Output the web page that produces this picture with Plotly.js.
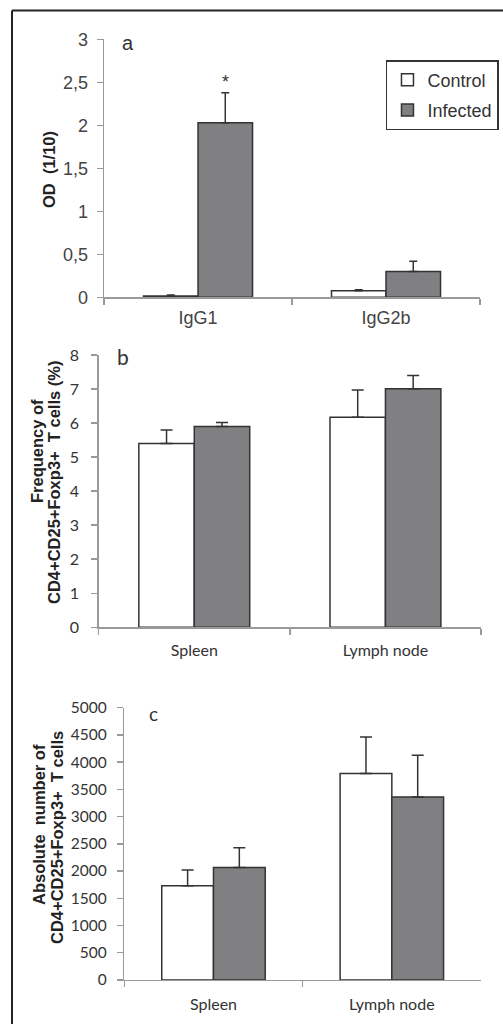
<!DOCTYPE html>
<html>
<head>
<meta charset="utf-8">
<script src="https://cdn.plot.ly/plotly-3.0.1.min.js"></script>
<style>
  html, body { margin: 0; padding: 0; background: #fff; }
  #chart { width: 503px; height: 1024px; }
</style>
</head>
<body>
<div id="chart"></div>
<script>
// ---- Data ----
const seriesNames = ['Control', 'Infected'];

// Panel a: OD (1/10)
const catA = ['IgG1', 'IgG2b'];
const aControl = [0.015, 0.077];
const aControlErr = [0.012, 0.011];
const aInfected = [2.03, 0.30];
const aInfectedErr = [0.35, 0.12];
const aTickVals = [0, 0.5, 1, 1.5, 2, 2.5, 3];
const aTickText = ['0', '0,5', '1', '1,5', '2', '2,5', '3'];
const aStarY = [2.5];

// Panel b: frequency (%)
const catB = ['Spleen', 'Lymph node'];
const bControl = [5.4, 6.17];
const bControlErr = [0.4, 0.8];
const bInfected = [5.9, 7.01];
const bInfectedErr = [0.12, 0.39];
const bTickVals = [0, 1, 2, 3, 4, 5, 6, 7, 8];
const bTickText = ['0', '1', '2', '3', '4', '5', '6', '7', '8'];

// Panel c: absolute number
const catC = ['Spleen', 'Lymph node'];
const cControl = [1730, 3790];
const cControlErr = [290, 670];
const cInfected = [2065, 3360];
const cInfectedErr = [365, 765];
const cTickVals = [0, 500, 1000, 1500, 2000, 2500, 3000, 3500, 4000, 4500, 5000];
const cTickText = ['0', '500', '1000', '1500', '2000', '2500', '3000', '3500', '4000', '4500', '5000'];

// ---- Styles ----
const CONTROL_FILL = '#ffffff';
const INFECTED_FILL = '#808083';
const OUTLINE = '#333333';
const AXIS_GREY = '#9a9a9a';
const ARIAL = 'Liberation Sans, Arial, sans-serif';
const CALIBRI = 'Lato, Carlito, sans-serif';

function barTrace(name, x, y, err, fill, xa, ya, show, capw) {
  return {
    type: 'bar', name: name, x: x, y: y,
    xaxis: xa, yaxis: ya,
    showlegend: show, legendgroup: name,
    marker: { color: fill, line: { color: OUTLINE, width: 1.5 } },
    error_y: { type: 'data', symmetric: false, array: err,
               arrayminus: err.map(() => 0),
               color: OUTLINE, thickness: 1.5, width: capw },
    hoverinfo: 'skip'
  };
}

const data = [
  barTrace(seriesNames[0], catA, aControl, aControlErr, CONTROL_FILL, 'x', 'y', true, 4),
  barTrace(seriesNames[1], catA, aInfected, aInfectedErr, INFECTED_FILL, 'x', 'y', true, 4),
  barTrace(seriesNames[0], catB, bControl, bControlErr, CONTROL_FILL, 'x2', 'y2', false, 6),
  barTrace(seriesNames[1], catB, bInfected, bInfectedErr, INFECTED_FILL, 'x2', 'y2', false, 6),
  barTrace(seriesNames[0], catC, cControl, cControlErr, CONTROL_FILL, 'x3', 'y3', false, 6),
  barTrace(seriesNames[1], catC, cInfected, cInfectedErr, INFECTED_FILL, 'x3', 'y3', false, 6)
];

function xAxis(domain, anchor, font, standoff) {
  return {
    domain: domain, anchor: anchor, type: 'category',
    showline: true, linecolor: AXIS_GREY, linewidth: 1.5,
    ticks: 'outside', tickson: 'boundaries', ticklen: 6, tickcolor: AXIS_GREY, tickwidth: 1.5,
    showgrid: false, zeroline: false, fixedrange: true,
    tickfont: font, ticklabelstandoff: standoff
  };
}
function yAxis(domain, anchor, range, vals, text, font, standoff) {
  return {
    domain: domain, anchor: anchor, range: range,
    tickmode: 'array', tickvals: vals, ticktext: text,
    showline: true, linecolor: AXIS_GREY, linewidth: 1.5,
    ticks: 'outside', ticklen: 6, tickcolor: AXIS_GREY, tickwidth: 1.5,
    showgrid: false, zeroline: false, fixedrange: true,
    tickfont: font, ticklabelstandoff: standoff
  };
}

const titleFont = { family: ARIAL, size: 16.5, color: '#222', weight: 'bold' };

function note(x, y, text, font, angle) {
  return { xref: 'paper', yref: 'paper', x: x / 503, y: 1 - y / 1024, text: text,
           showarrow: false, xanchor: 'center', yanchor: 'middle',
           textangle: angle || 0, font: font };
}

const layout = {
  width: 503, height: 1024,
  margin: { l: 0, r: 0, t: 0, b: 0 },
  paper_bgcolor: '#fff', plot_bgcolor: '#fff',
  barmode: 'group', bargap: 0.42, bargroupgap: 0,
  xaxis: xAxis([0.2068, 0.9543], 'y', { family: ARIAL, size: 18, color: '#444' }, 4),
  yaxis: yAxis([0.7097, 0.9616], 'x', [0, 3], aTickVals, aTickText, { family: ARIAL, size: 18, color: '#444' }, 5),
  xaxis2: xAxis([0.1962, 0.9563], 'y2', { family: CALIBRI, size: 16, color: '#333' }, 8),
  yaxis2: yAxis([0.3874, 0.6533], 'x2', [0, 8], bTickVals, bTickText, { family: CALIBRI, size: 16, color: '#333' }, 9),
  xaxis3: xAxis([0.2471, 0.9563], 'y3', { family: CALIBRI, size: 16, color: '#333' }, 9),
  yaxis3: yAxis([0.0430, 0.3089], 'x3', [0, 5000], cTickVals, cTickText, { family: CALIBRI, size: 15.5, color: '#333' }, 7),
  showlegend: true,
  legend: {
    x: 0.992, xanchor: 'right', y: 0.9414, yanchor: 'top',
    bgcolor: '#fff', bordercolor: '#333', borderwidth: 1.5,
    font: { family: ARIAL, size: 18, color: '#333' },
    traceorder: 'grouped', tracegroupgap: 4,
    itemwidth: 30
  },
  annotations: [
    note(128, 43, 'a', { family: ARIAL, size: 20, color: '#333' }),
    note(123, 356, 'b', { family: CALIBRI, size: 21, color: '#333' }),
    note(153, 713, 'c', { family: CALIBRI, size: 19, color: '#333' }),
    { xref: 'x', yref: 'y', x: catA[0], y: aStarY[0], xshift: 27, text: '*', showarrow: false,
      xanchor: 'center', yanchor: 'middle',
      font: { family: ARIAL, size: 18, color: '#333' } },
    note(49, 170, 'OD  (1/10)', titleFont, -90),
    note(37, 451, 'Frequency of', titleFont, -90),
    note(54, 483, 'CD4+CD25+Foxp3+  T cells (%)', titleFont, -90),
    note(39, 825, 'Absolute  number of', titleFont, -90),
    note(57, 838, 'CD4+CD25+Foxp3+  T cells', titleFont, -90)
  ],
  shapes: [
    { type: 'line', xref: 'paper', yref: 'paper', x0: 12/503, x1: 1, y0: 1 - 10.5/1024, y1: 1 - 10.5/1024,
      line: { color: '#222', width: 2 } },
    { type: 'line', xref: 'paper', yref: 'paper', x0: 12/503, x1: 12/503, y0: 0, y1: 1 - 10.5/1024,
      line: { color: '#222', width: 2 } }
  ]
};

Plotly.newPlot('chart', data, layout, { staticPlot: true, displayModeBar: false });
</script>
</body>
</html>
